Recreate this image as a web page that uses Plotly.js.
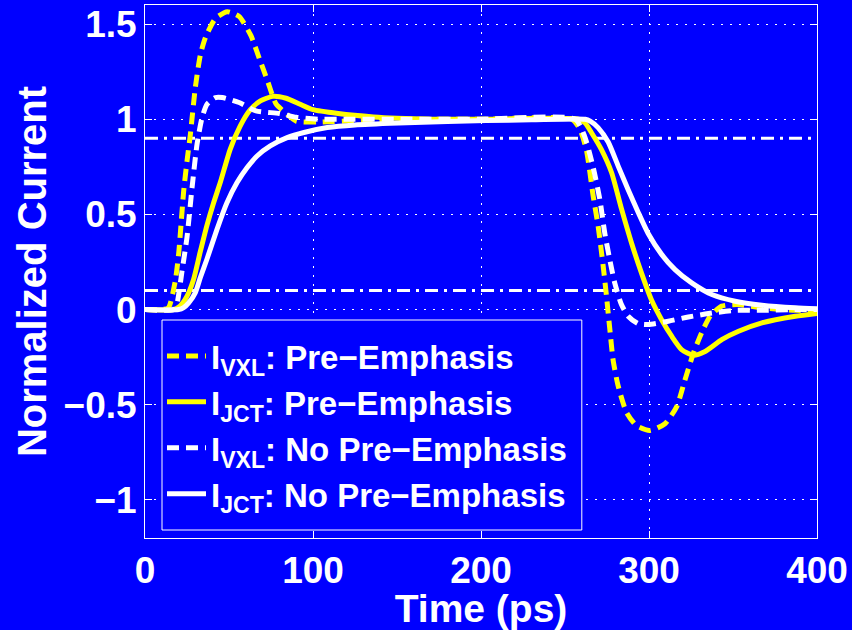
<!DOCTYPE html>
<html>
<head>
<meta charset="utf-8">
<script src="https://cdn.plot.ly/plotly-3.0.1.min.js"></script>
<style>html,body{margin:0;padding:0;background:#0000ff;}#chart{width:852px;height:630px;}</style>
</head>
<body>
<div id="chart"></div>
<script>
// Time (ps) and normalized current
const vxlPeX = [0,10,14,18,20,23,25,27,30,33,36,42,49,56,63,68,73,78,84,90,103,130,160,200,254,258.7,262.7,266.7,269.7,272.7,274.7,276.7,278.6,281.6,286.6,292.6,300.5,309.5,316.5,321.4,326.4,331.4,336.4,343.3,353.3,367.2,387,400];
const vxlPeY = [0,0,0.01,0.15,0.29,0.62,0.78,0.92,1.17,1.34,1.43,1.53,1.565,1.54,1.44,1.32,1.2,1.08,1.03,0.99,0.985,0.995,1.0,1.0,1.0,0.95,0.84,0.6,0.44,0.23,0.07,-0.105,-0.263,-0.40,-0.54,-0.61,-0.635,-0.60,-0.51,-0.37,-0.23,-0.12,-0.035,0.018,0.026,0.009,-0.004,-0.005];

const jctPeX = [0,17,21,25,28.9,32.8,36.8,40.8,44.8,50.7,56.7,62.7,68.7,76,84,92,100,115,136,150,170,200,258,262,265.7,271.7,277.7,283.6,289.6,295.6,301.5,307.5,313.5,319.4,326.4,333.4,343.3,353.3,367.2,387.1,400];
const jctPeY = [0,0,0.02,0.07,0.158,0.3,0.44,0.56,0.667,0.842,0.965,1.05,1.096,1.12,1.11,1.08,1.05,1.03,1.012,1.005,1.0,1.0,1.0,0.98,0.93,0.84,0.72,0.53,0.35,0.19,0.05,-0.053,-0.14,-0.21,-0.24,-0.22,-0.158,-0.114,-0.07,-0.035,-0.02];

const vxlNoX = [0,17,19,22,25,28,31,34,37,42,46,56,66,80,90,103,120,150,200,256,261.7,266.7,270.7,273.7,276.7,279.6,283.6,287.6,293.6,299.5,311.5,323.4,335.4,351.3,367,385,400];
const vxlNoY = [0,0,0.03,0.2,0.38,0.64,0.87,1.01,1.08,1.114,1.114,1.088,1.044,1.03,1.01,1.0,1.0,1.0,1.0,1.0,0.91,0.75,0.58,0.40,0.26,0.14,0.026,-0.035,-0.074,-0.079,-0.061,-0.039,-0.021,-0.004,-0.004,0,0];

const jctNoX = [0,20,23,26,29.9,33,36.8,42.8,48.7,54.8,60.7,66.7,74.6,84.6,94.6,108.5,125,151,180,203,230,262,265,269.7,275.7,281.6,287.6,293.6,299.5,307.5,315.5,325.4,337.4,351.3,367.2,387.1,400];
const jctNoY = [0,0,0.01,0.035,0.088,0.17,0.263,0.42,0.56,0.667,0.745,0.807,0.86,0.903,0.93,0.956,0.97,0.98,0.988,0.993,0.997,1.0,0.99,0.956,0.88,0.755,0.63,0.51,0.40,0.29,0.21,0.14,0.079,0.044,0.023,0.009,0.004];

// threshold reference levels
const refX = [0, 400];
const upperLevel = [0.9, 0.9];
const lowerLevel = [0.1, 0.1];

const names = [
  'I<sub>VXL</sub>: Pre\u2212Emphasis',
  'I<sub>JCT</sub>: Pre\u2212Emphasis',
  'I<sub>VXL</sub>: No Pre\u2212Emphasis',
  'I<sub>JCT</sub>: No Pre\u2212Emphasis'
];
const xTicks = [0, 100, 200, 300, 400];
const yTicks = [-1, -0.5, 0, 0.5, 1, 1.5];
const yTickText = ['\u22121', '\u22120.5', '0', '0.5', '1', '1.5'];

const FONT = '"Liberation Sans", Arial, Helvetica, sans-serif';
const refLine = {color: '#ffffff', width: 3, dash: '13px,6px,3px,6px'};

const traces = [
  {x: refX, y: upperLevel, mode: 'lines', line: refLine, showlegend: false, hoverinfo: 'skip'},
  {x: refX, y: lowerLevel, mode: 'lines', line: refLine, showlegend: false, hoverinfo: 'skip'},
  {x: vxlPeX, y: vxlPeY, name: names[0], mode: 'lines', line: {color: '#ffff00', width: 5, dash: '12px,7px', shape: 'spline', smoothing: 0.6}},
  {x: jctPeX, y: jctPeY, name: names[1], mode: 'lines', line: {color: '#ffff00', width: 5, shape: 'spline', smoothing: 0.6}},
  {x: vxlNoX, y: vxlNoY, name: names[2], mode: 'lines', line: {color: '#ffffff', width: 5, dash: '12px,7px', shape: 'spline', smoothing: 0.6}},
  {x: jctNoX, y: jctNoY, name: names[3], mode: 'lines', line: {color: '#ffffff', width: 5, shape: 'spline', smoothing: 0.6}}
];

const axisCommon = {
  showline: true, mirror: 'ticks', linecolor: '#ffffff', linewidth: 1,
  ticks: 'inside', ticklen: 7, tickcolor: '#ffffff', tickwidth: 1,
  showgrid: true, gridcolor: '#ffffff', gridwidth: 1, griddash: '2px,7px',
  zeroline: false,
  tickfont: {family: FONT, size: 37, color: '#ffffff', weight: 'bold'}
};

const layout = {
  width: 852, height: 630,
  paper_bgcolor: '#0000ff', plot_bgcolor: '#0000ff',
  margin: {l: 145, r: 35, t: 5, b: 92},
  font: {family: FONT, color: '#ffffff'},
  xaxis: Object.assign({}, axisCommon, {
    range: [0, 400], tickvals: xTicks, ticktext: xTicks.map(String),
    title: {text: '<b>Time (ps)</b>', font: {family: FONT, size: 39, color: '#ffffff'}, standoff: 0}
  }),
  yaxis: Object.assign({}, axisCommon, {
    range: [-1.2, 1.6], tickvals: yTicks, ticktext: yTickText,
    title: {text: '<b>Normalized Current</b>', font: {family: FONT, size: 40, color: '#ffffff'}, standoff: 4}
  }),
  shapes: [{
    type: 'rect', xref: 'paper', yref: 'paper',
    x0: 0.0253, x1: 0.650, y0: 0.015, y1: 0.409,
    line: {color: '#ffffff', width: 1}, fillcolor: '#0000ff', layer: 'above'
  }],
  legend: {
    x: 0.0253, y: 0.394, xanchor: 'left', yanchor: 'top',
    bgcolor: 'rgba(0,0,0,0)', borderwidth: 0,
    font: {family: FONT, size: 33, color: '#ffffff', weight: 'bold'},
    traceorder: 'normal', itemwidth: 39, tracegroupgap: 0
  },
  showlegend: true
};

Plotly.newPlot('chart', traces, layout, {displayModeBar: false, staticPlot: true});
</script>
</body>
</html>
